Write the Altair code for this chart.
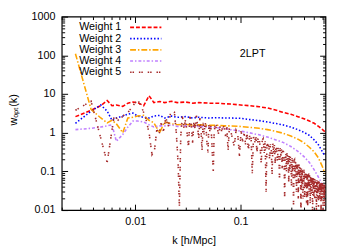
import altair as alt
import pandas as pd

names = ["Weight 1", "Weight 2", "Weight 3", "Weight 4", "Weight 5"]
colors = ["#ff0000", "#0000ff", "#ffa500", "#c080ff", "#a52a2a"]
dashes = [[4, 2], [1.5, 2], [6, 2, 1.5, 2], [3, 2, 1.5, 2], [1.5, 1, 1.5, 5]]
widths = [1.6, 1.6, 1.6, 1.6, 1.9]

k_main = [0.0027, 0.0038, 0.0047, 0.0054, 0.0060, 0.0066, 0.0076, 0.0085, 0.0095, 0.0105,
          0.012, 0.0135, 0.015, 0.017, 0.019, 0.022, 0.025, 0.03, 0.035, 0.04,
          0.05, 0.06, 0.07, 0.08, 0.1, 0.12, 0.15, 0.18, 0.21, 0.25,
          0.3, 0.35, 0.4, 0.45, 0.5, 0.55, 0.6, 0.63]
w1 = [2.6, 3.8, 5.0, 6.8, 5.0, 5.2, 4.8, 5.8, 6.2, 6.0,
      5.0, 9.0, 6.0, 6.4, 6.0, 6.5, 6.0, 6.2, 5.8, 6.0,
      5.8, 5.8, 5.6, 5.5, 5.2, 5.0, 4.7, 4.35, 3.9, 3.4,
      3.0, 2.6, 2.3, 2.0, 1.75, 1.45, 1.2, 1.07]
w2 = [1.75, 3.6, 5.2, 3.6, 2.1, 2.4, 2.7, 3.0, 3.2, 2.7,
      2.5, 2.4, 2.7, 2.8, 2.4, 2.7, 2.5, 2.6, 2.4, 2.5,
      2.4, 2.45, 2.4, 2.4, 2.35, 2.2, 2.05, 1.9, 1.75, 1.6,
      1.4, 1.2, 1.02, 0.85, 0.65, 0.48, 0.32, 0.25]
w3 = [110, 4.0, 2.4, 1.8, 2.1, 1.7, 1.0, 2.4, 2.5, 2.7,
      2.8, 2.1, 1.8, 1.0, 1.9, 1.7, 1.6, 1.65, 1.55, 1.6,
      1.55, 1.55, 1.5, 1.5, 1.45, 1.38, 1.3, 1.2, 1.1, 0.98,
      0.82, 0.68, 0.55, 0.42, 0.32, 0.22, 0.13, 0.09]
w4 = [1.2, 1.3, 1.4, 1.5, 1.6, 0.6, 0.9, 1.4, 2.0, 2.0,
      1.9, 1.6, 1.4, 1.5, 1.5, 1.6, 1.45, 1.5, 1.45, 1.45,
      1.4, 1.35, 1.3, 1.2, 1.1, 1.0, 0.88, 0.77, 0.67, 0.57,
      0.44, 0.33, 0.24, 0.17, 0.11, 0.07, 0.045, 0.033]

k5 = [0.0027, 0.0038, 0.0054, 0.0063, 0.0070, 0.0076, 0.0085, 0.0095, 0.0105, 0.0115,
      0.0125, 0.0135, 0.0144, 0.0152, 0.0160, 0.0168, 0.0176, 0.0185, 0.0195, 0.0205,
      0.0215, 0.0225, 0.0235, 0.0245, 0.0255, 0.0262, 0.027, 0.028, 0.029, 0.030,
      0.031, 0.032, 0.033, 0.034, 0.035, 0.036, 0.037, 0.038, 0.039, 0.040,
      0.041, 0.042, 0.043, 0.044, 0.045, 0.046, 0.047, 0.048, 0.049, 0.050,
      0.051, 0.052, 0.053, 0.054, 0.055, 0.056, 0.057, 0.058, 0.059, 0.060,
      0.062, 0.064, 0.066, 0.068, 0.070, 0.072, 0.074, 0.076, 0.078,
      0.0800, 0.0835, 0.0870, 0.0905, 0.0940, 0.0975, 0.1010, 0.1045, 0.1080, 0.1115,
      0.1150, 0.1185, 0.1220, 0.1255, 0.1290, 0.1325, 0.1360, 0.1395, 0.1430, 0.1465,
      0.1500, 0.1535, 0.1570, 0.1605, 0.1640, 0.1675, 0.1710, 0.1745, 0.1780, 0.1815,
      0.1850, 0.1885, 0.1920, 0.1955, 0.1990, 0.2025, 0.2060, 0.2095, 0.2130, 0.2165,
      0.2200, 0.2235, 0.2270, 0.2305, 0.2340, 0.2375, 0.2410, 0.2445, 0.2480, 0.2515,
      0.2550, 0.2585, 0.2620, 0.2655, 0.2690, 0.2725, 0.2760, 0.2795, 0.2830, 0.2865,
      0.2900, 0.2935, 0.2970, 0.3005, 0.3040, 0.3075, 0.3110, 0.3145, 0.3180, 0.3215,
      0.3250, 0.3285, 0.3320, 0.3355, 0.3390, 0.3425, 0.3460, 0.3495, 0.3530, 0.3565,
      0.3600, 0.3635, 0.3670, 0.3705, 0.3740, 0.3775, 0.3810, 0.3845, 0.3880, 0.3915,
      0.3950, 0.3985, 0.4020, 0.4055, 0.4090, 0.4125, 0.4160, 0.4195, 0.4230, 0.4265,
      0.4300, 0.4335, 0.4370, 0.4405, 0.4440, 0.4475, 0.4510, 0.4545, 0.4580, 0.4615,
      0.4650, 0.4685, 0.4720, 0.4755, 0.4790, 0.4825, 0.4860, 0.4895, 0.4930, 0.4965,
      0.5000, 0.5035, 0.5070, 0.5105, 0.5140, 0.5175, 0.5210, 0.5245, 0.5280, 0.5315,
      0.5350, 0.5385, 0.5420, 0.5455, 0.5490, 0.5525, 0.5560, 0.5595, 0.5630, 0.5665,
      0.5700, 0.5735, 0.5770, 0.5805, 0.5840, 0.5875, 0.5910, 0.5945, 0.5980, 0.6015,
      0.6050, 0.6085, 0.6120, 0.6155, 0.6190, 0.6225, 0.6260, 0.6295, 0.6330, 0.6365,
      0.6400]
w5 = [3.8, 6.5, 0.17, 2.8, 2.0, 2.7, 3.3, 5.0, 7.2, 4.5,
      2.5, 1.0, 0.27, 0.35, 1.2, 0.9, 1.8, 1.1, 2.5, 1.4,
      3.0, 3.6, 3.4, 1.0, 0.16, 0.012, 0.8, 2.6, 1.3, 2.2,
      1.0, 0.42, 2.6, 1.6, 0.55, 2.0, 1.2, 2.8, 1.5, 0.7,
      2.4, 1.3, 0.35, 1.8, 0.9, 1.9, 1.3, 0.5, 0.31, 1.7,
      1.1, 1.5, 0.8, 0.25, 0.1, 0.9, 1.5, 1.2, 1.6, 1.3,
      0.9, 1.5, 1.1, 1.6, 1.3, 0.8, 1.4, 0.35, 1.25,
      1.25, 0.7, 0.45, 1.15, 0.9, 0.25, 1.1, 0.6, 0.95, 0.5,
      1.0, 0.35, 0.85, 0.9, 0.09, 0.8, 0.55, 0.85, 0.3, 0.7,
      0.75, 0.4, 0.16, 0.65, 0.7, 0.3, 0.6, 0.03, 0.58, 0.45,
      0.55, 0.2, 0.5, 0.4, 0.08, 0.52, 0.3, 0.48, 0.15, 0.45,
      0.45, 0.18, 0.4, 0.35, 0.06, 0.4, 0.25, 0.37, 0.12, 0.35,
      0.33, 0.2, 0.02, 0.3, 0.28, 0.1, 0.3, 0.15, 0.26, 0.05,
      0.27, 0.1, 0.24, 0.2, 0.04, 0.22, 0.09, 0.2, 0.012, 0.19,
      0.2, 0.07, 0.18, 0.12, 0.03, 0.17, 0.08, 0.15, 0.02, 0.15,
      0.14, 0.05, 0.13, 0.09, 0.008, 0.12, 0.04, 0.12, 0.07, 0.02,
      0.11, 0.05, 0.11, 0.02, 0.1, 0.06, 0.035, 0.1, 0.015, 0.09,
      0.09, 0.012, 0.085, 0.04, 0.088, 0.03, 0.08, 0.055, 0.015, 0.08,
      0.075, 0.025, 0.072, 0.045, 0.07, 0.006, 0.068, 0.035, 0.065, 0.02,
      0.065, 0.04, 0.02, 0.062, 0.03, 0.06, 0.045, 0.008, 0.06, 0.03,
      0.058, 0.02, 0.055, 0.04, 0.012, 0.056, 0.03, 0.054, 0.018, 0.05,
      0.052, 0.025, 0.05, 0.009, 0.05, 0.035, 0.048, 0.018, 0.05, 0.03,
      0.048, 0.007, 0.047, 0.03, 0.046, 0.02, 0.045, 0.012, 0.046, 0.028,
      0.045]

x_major = [0.01, 0.1]
x_minor = [0.002, 0.003, 0.004, 0.005, 0.006, 0.007, 0.008, 0.009,
           0.02, 0.03, 0.04, 0.05, 0.06, 0.07, 0.08, 0.09,
           0.2, 0.3, 0.4, 0.5, 0.6]
y_major = [0.01, 0.1, 1, 10, 100, 1000]
y_minor = [0.02, 0.03, 0.04, 0.05, 0.06, 0.07, 0.08, 0.09,
           0.2, 0.3, 0.4, 0.5, 0.6, 0.7, 0.8, 0.9,
           2, 3, 4, 5, 6, 7, 8, 9,
           20, 30, 40, 50, 60, 70, 80, 90,
           200, 300, 400, 500, 600, 700, 800, 900]

rows = []
for name, ys in zip(names[:4], [w1, w2, w3, w4]):
    for i, (k, w) in enumerate(zip(k_main, ys)):
        rows.append({"k": k, "w": w, "series": name, "idx": i})
for i, (k, w) in enumerate(zip(k5, w5)):
    rows.append({"k": k, "w": w, "series": names[4], "idx": i})
df = pd.DataFrame(rows)

W, H = 270, 198
FONT = "Liberation Sans"

xs = alt.Scale(type="log", domain=[0.002, 0.64], nice=False)
ys = alt.Scale(type="log", domain=[0.01, 1000], nice=False)
cs = alt.Scale(domain=names, range=colors)
ds = alt.Scale(domain=names, range=dashes)
ws = alt.Scale(domain=names, range=widths)

lines = alt.Chart(df).mark_line(clip=True).encode(
    x=alt.X("k:Q", scale=xs,
            axis=alt.Axis(values=x_major, format="~g", title="k [h/Mpc]", orient="bottom",
                          ticks=False, domain=False, grid=True, gridColor="black",
                          gridOpacity=1, gridWidth=1, gridDash=[6, H - 12],
                          labelFont=FONT, labelFontSize=11, labelColor="black",
                          labelPadding=6, titleFont=FONT, titleFontSize=11,
                          titleFontWeight="normal", titleColor="black", titleY=25,
                          labelFlush=False)),
    y=alt.Y("w:Q", scale=ys,
            axis=alt.Axis(values=y_major, format="~g", title="wₒₚₜ(k)", orient="left",
                          ticks=False, domain=False, grid=True, gridColor="black",
                          gridOpacity=1, gridWidth=1, gridDash=[6, W - 12],
                          labelFont=FONT, labelFontSize=11, labelColor="black",
                          labelPadding=7, titleFont=FONT, titleFontSize=11,
                          titleFontWeight="normal", titleColor="black", titleX=-44,
                          titleY=95, labelFlush=False)),
    color=alt.Color("series:N", scale=cs, legend=None),
    strokeDash=alt.StrokeDash("series:N", scale=ds, legend=None),
    strokeWidth=alt.StrokeWidth("series:N", scale=ws, legend=None),
    order="idx:Q",
    detail="series:N",
)

minor = alt.Chart(pd.DataFrame({"k": [0.01], "w": [1.0]})).mark_point(opacity=0).encode(
    x=alt.X("k:Q", scale=xs,
            axis=alt.Axis(values=x_minor, labels=False, ticks=False, domain=False, title=None,
                          orient="top", grid=True, gridColor="black", gridOpacity=1,
                          gridWidth=1, gridDash=[3, H - 6])),
    y=alt.Y("w:Q", scale=ys,
            axis=alt.Axis(values=y_minor, labels=False, ticks=False, domain=False, title=None,
                          orient="right", grid=True, gridColor="black", gridOpacity=1,
                          gridWidth=1, gridDash=[3, W - 6])),
)

label_df = pd.DataFrame({"k": [0.13], "w": [105.0], "t": ["2LPT"]})
label = alt.Chart(label_df).mark_text(font=FONT, fontSize=11, color="black",
                                      align="center", baseline="middle").encode(
    x=alt.X("k:Q", scale=xs, axis=None), y=alt.Y("w:Q", scale=ys, axis=None), text="t:N")

leg_df = pd.DataFrame({"series": names})
leg_y = alt.Y("series:N", scale=alt.Scale(type="point", domain=names, range=[11, 57],
                                          padding=0), axis=None)
leg_lines = alt.Chart(leg_df).mark_rule().encode(
    x=alt.value(70), x2=alt.value(102), y=leg_y,
    color=alt.Color("series:N", scale=cs, legend=None),
    strokeDash=alt.StrokeDash("series:N", scale=ds, legend=None),
    strokeWidth=alt.StrokeWidth("series:N", scale=ws, legend=None),
)
leg_text = alt.Chart(leg_df).mark_text(font=FONT, fontSize=11, color="black",
                                       align="right", baseline="middle").encode(
    x=alt.value(61), y=leg_y, text="series:N")

main = alt.layer(lines, minor, label).resolve_axis(x="independent", y="independent")
legend_layer = alt.layer(leg_lines, leg_text)

chart = alt.layer(main, legend_layer).resolve_scale(y="independent").resolve_axis(
    x="independent", y="independent"
).properties(
    width=W, height=H,
    autosize=alt.AutoSizeParams(type="none"),
    padding={"left": 55, "top": 6, "right": 22, "bottom": 37},
).configure_view(stroke="black", strokeWidth=1.2)

chart.save("out.html", embed_options={"renderer": "svg", "actions": False})
